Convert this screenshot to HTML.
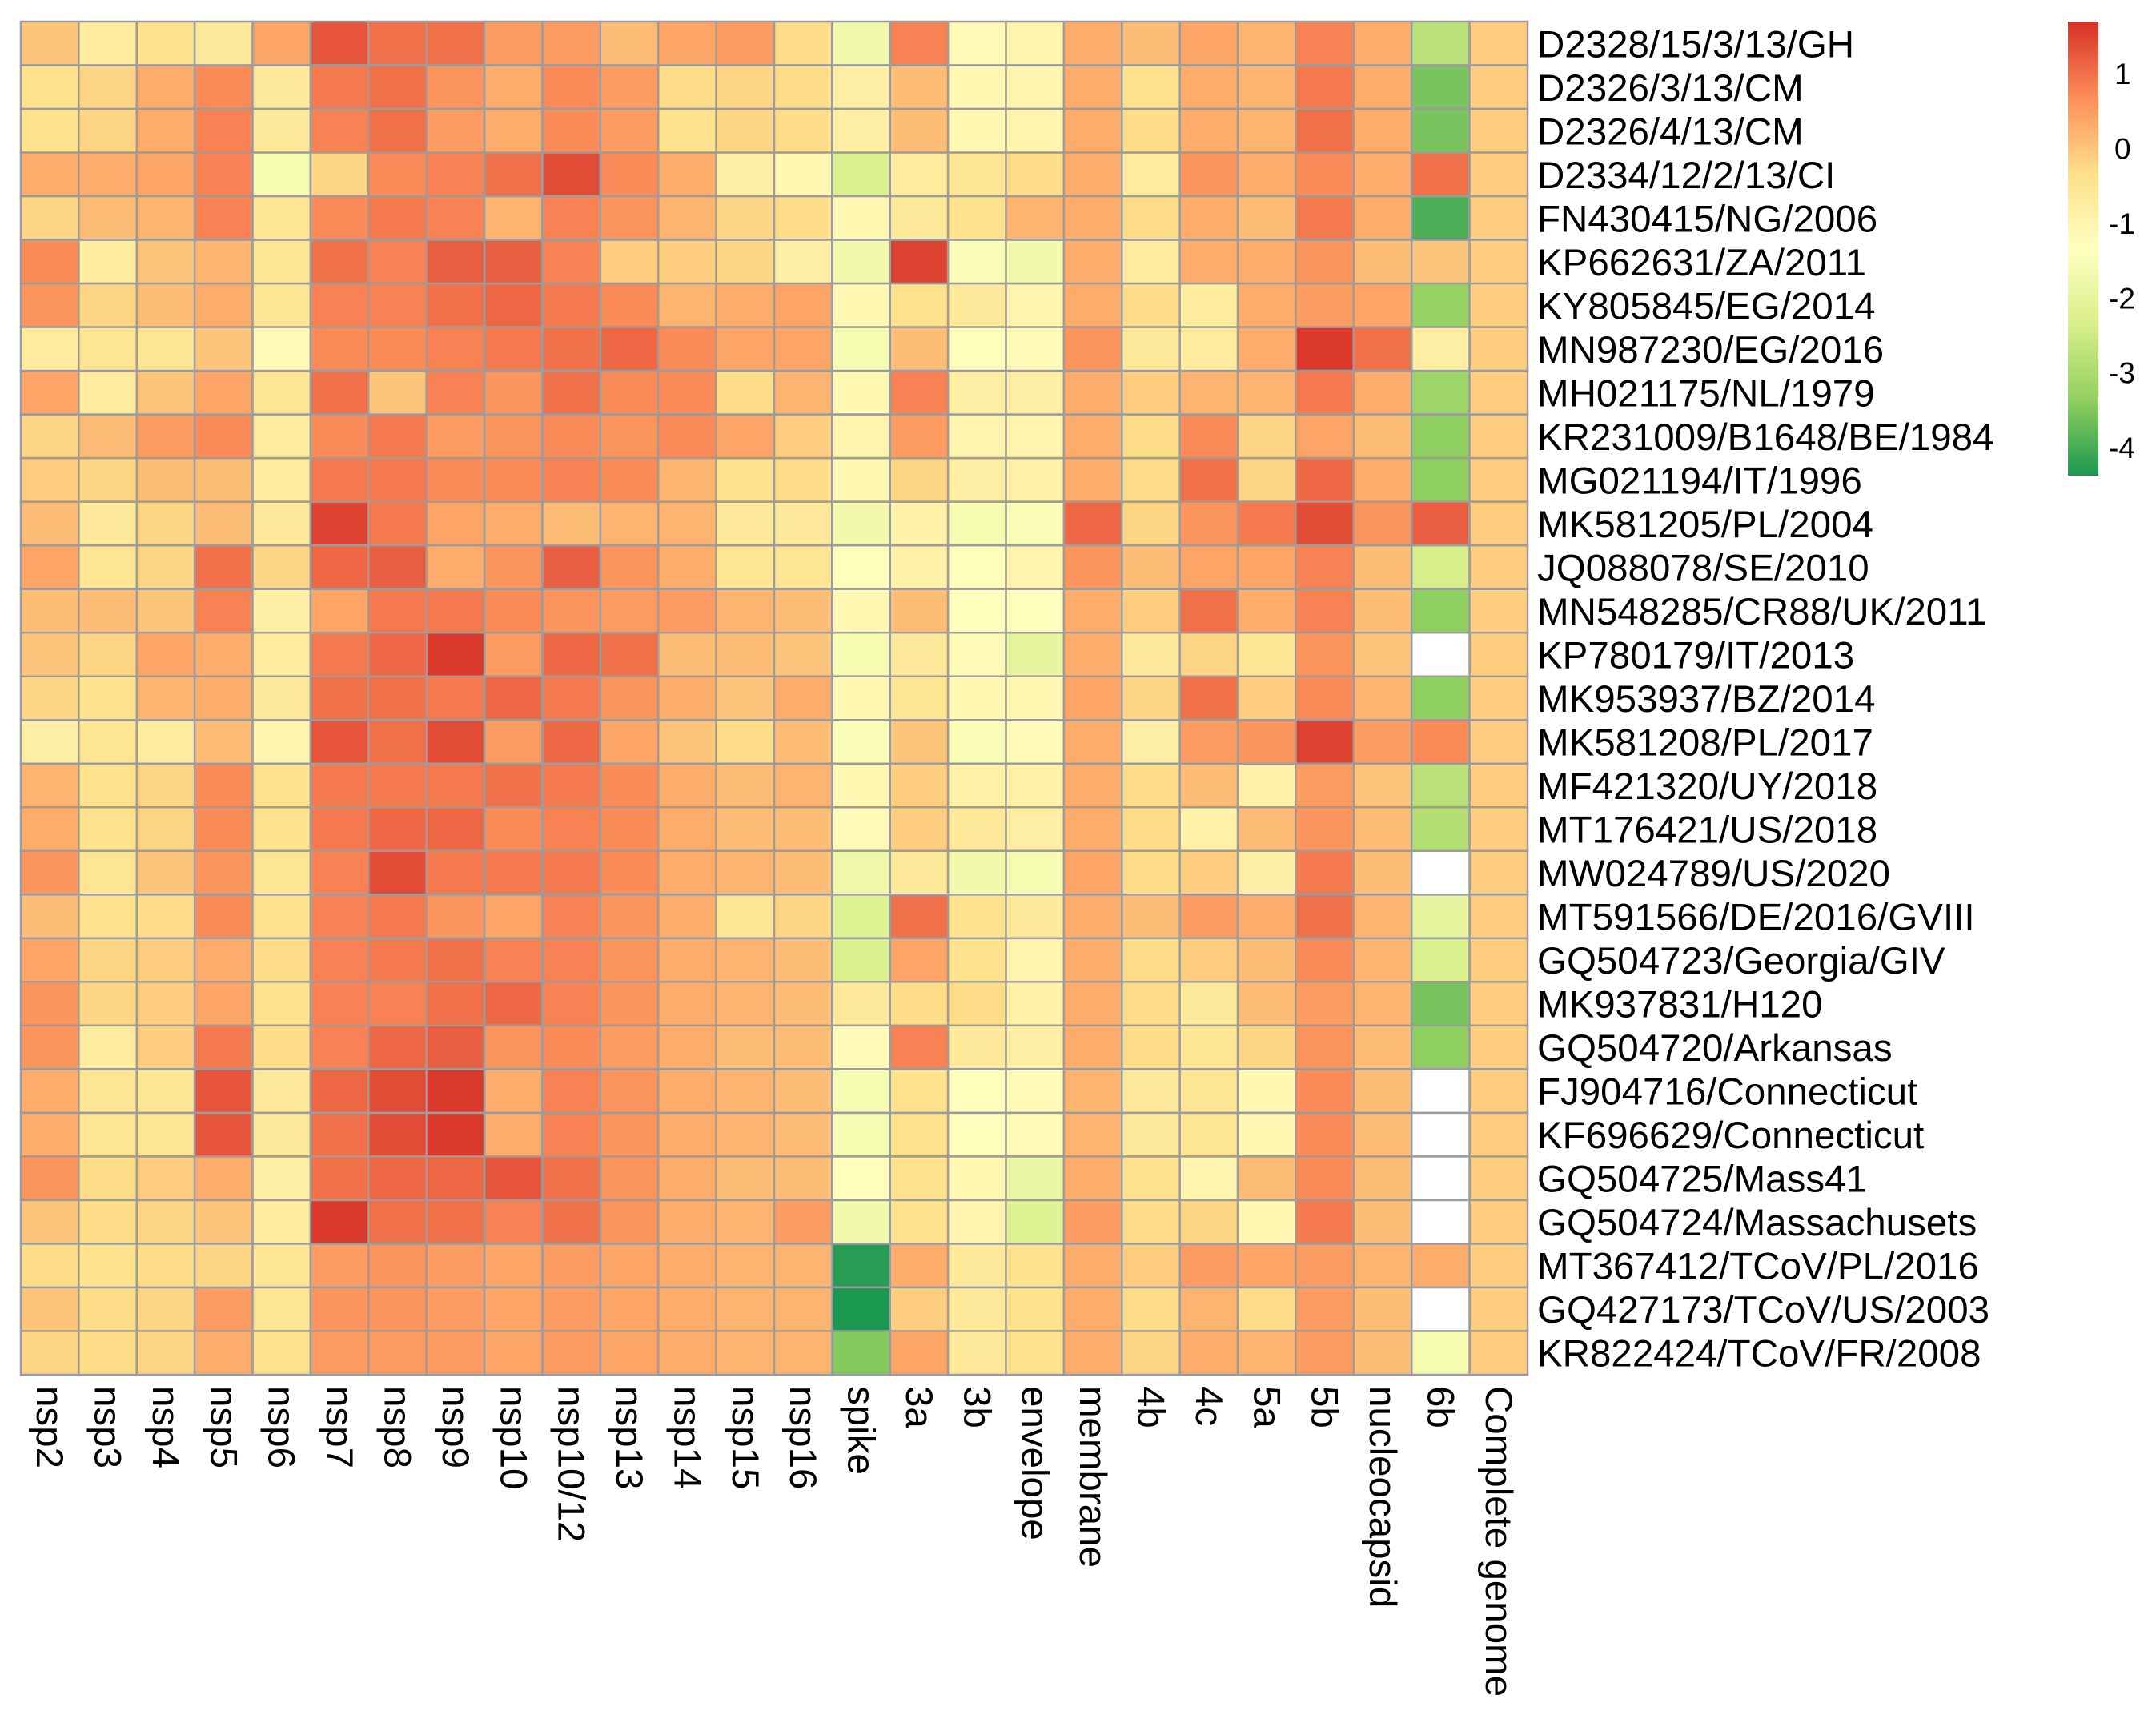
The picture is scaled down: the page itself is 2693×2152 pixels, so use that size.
<!DOCTYPE html>
<html><head><meta charset="utf-8"><style>
html,body{margin:0;padding:0;background:#fff;}
svg{display:block;}
text{font-family:"Liberation Sans",Arial,sans-serif;fill:#000;}
</style></head>
<body>
<svg id="chart" width="2693" height="2152" viewBox="0 0 2693 2152" xmlns="http://www.w3.org/2000/svg">
<defs>
<linearGradient id="lg" x1="0" y1="0" x2="0" y2="1">
<stop offset="0" stop-color="#d73027"/><stop offset="0.1667" stop-color="#fc8d59"/><stop offset="0.3333" stop-color="#fee08b"/><stop offset="0.5" stop-color="#ffffbf"/><stop offset="0.6667" stop-color="#d9ef8b"/><stop offset="0.8333" stop-color="#91cf60"/><stop offset="1" stop-color="#1a9850"/>
</linearGradient>
</defs>
<g id="cells"></g>
<g id="rowlabels"></g>
<g id="collabels"></g>
<g id="legend">
<rect x="2583" y="27" width="38" height="567" fill="url(#lg)"/>
</g>
</svg>
<script>
const columns = ["nsp2","nsp3","nsp4","nsp5","nsp6","nsp7","nsp8","nsp9","nsp10","nsp10/12","nsp13","nsp14","nsp15","nsp16","spike","3a","3b","envelope","membrane","4b","4c","5a","5b","nucleocapsid","6b","Complete genome"];
const rows = ["D2328/15/3/13/GH","D2326/3/13/CM","D2326/4/13/CM","D2334/12/2/13/CI","FN430415/NG/2006","KP662631/ZA/2011","KY805845/EG/2014","MN987230/EG/2016","MH021175/NL/1979","KR231009/B1648/BE/1984","MG021194/IT/1996","MK581205/PL/2004","JQ088078/SE/2010","MN548285/CR88/UK/2011","KP780179/IT/2013","MK953937/BZ/2014","MK581208/PL/2017","MF421320/UY/2018","MT176421/US/2018","MW024789/US/2020","MT591566/DE/2016/GVIII","GQ504723/Georgia/GIV","MK937831/H120","GQ504720/Arkansas","FJ904716/Connecticut","KF696629/Connecticut","GQ504725/Mass41","GQ504724/Massachusets","MT367412/TCoV/PL/2016","GQ427173/TCoV/US/2003","KR822424/TCoV/FR/2008"];
const N = null;
const values = [
[0,-0.7,-0.4,-0.6,0.4,1.3,1.0,1.0,0.5,0.5,0.1,0.4,0.5,-0.3,-1.7,0.8,-1.2,-1.0,0.3,0.1,0.4,0.2,0.8,0.3,-2.8,-0.1],
[-0.4,-0.2,0.3,0.7,-0.6,0.9,1.0,0.6,0.3,0.7,0.5,-0.3,-0.2,-0.3,-0.8,0.1,-1.1,-1.0,0.3,-0.4,0.3,0.2,0.9,0.3,-3.6,-0.1],
[-0.4,-0.2,0.3,0.8,-0.6,0.8,1.0,0.5,0.3,0.7,0.5,-0.4,-0.2,-0.3,-0.8,0.1,-1.1,-1.0,0.3,-0.3,0.3,0.2,1.0,0.3,-3.6,-0.1],
[0.3,0.3,0.4,0.8,-1.6,-0.2,0.7,0.8,1.0,1.4,0.7,0.3,-0.8,-1.1,-2.3,-0.7,-0.5,-0.3,0.3,-0.7,0.6,0.3,0.7,0.3,1.0,-0.1],
[-0.2,0.1,0.2,0.8,-0.5,0.7,0.9,0.8,0.2,0.8,0.6,0.2,-0.2,-0.3,-1.1,-0.6,-0.4,0.2,0.3,-0.3,0.3,0.1,0.9,0.3,-4.0,-0.1],
[0.7,-0.7,0.0,0.2,-0.5,1.0,0.8,1.2,1.2,0.8,-0.1,-0.1,-0.2,-0.8,-1.7,1.5,-1.5,-1.7,0.3,-0.7,0.3,0.3,0.6,0.1,0.0,-0.1],
[0.6,-0.2,0.1,0.3,-0.5,0.8,0.8,1.0,1.1,0.9,0.7,0.2,0.3,0.4,-1.1,-0.4,-0.6,-1.0,0.3,-0.3,-0.7,0.3,0.5,0.4,-3.3,-0.1],
[-0.7,-0.5,-0.5,0.0,-1.2,0.7,0.7,0.8,0.9,1.0,1.1,0.7,0.4,0.4,-1.6,0.1,-1.4,-1.2,0.6,-0.6,-0.7,0.3,1.6,1.0,-0.8,-0.1],
[0.4,-0.7,0.0,0.4,-0.5,1.0,0.0,0.8,0.6,1.0,0.7,0.7,-0.3,0.2,-1.1,0.8,-0.8,-0.8,0.3,-0.1,0.2,0.2,0.9,0.3,-3.2,-0.1],
[-0.2,0.1,0.5,0.7,-0.7,0.7,0.9,0.5,0.6,0.7,0.6,0.7,0.4,-0.1,-1.0,0.5,-1.0,-1.0,0.3,-0.3,0.7,-0.2,0.4,0.1,-3.4,-0.1],
[-0.1,-0.2,0.1,0.1,-0.7,0.9,0.9,0.7,0.7,0.8,0.7,0.2,-0.4,-0.3,-1.1,-0.2,-0.8,-0.9,0.3,-0.3,1.0,-0.2,1.1,0.3,-3.4,-0.1],
[0.1,-0.6,-0.2,0.1,-0.6,1.5,0.9,0.4,0.3,0.1,0.2,0.2,-0.6,-0.6,-1.7,-0.9,-1.6,-1.5,1.1,-0.2,0.6,0.9,1.4,0.6,1.2,-0.1],
[0.4,-0.5,-0.2,1.0,-0.2,1.1,1.2,0.3,0.6,1.2,0.6,0.3,-0.5,-0.5,-1.3,-0.9,-1.3,-1.0,0.6,0.1,0.4,0.4,0.8,0.1,-2.4,-0.1],
[0.1,0.1,0.0,0.8,-0.8,0.4,0.9,0.9,0.7,0.6,0.5,0.5,0.2,0.1,-1.1,0.1,-1.4,-1.3,0.3,-0.1,1.0,0.3,0.8,0.1,-3.4,-0.1],
[0.0,-0.2,0.4,0.3,-0.7,0.9,1.1,1.6,0.5,1.1,1.0,0.1,0.1,0.0,-1.6,-0.6,-1.2,-2.0,0.3,-0.6,-0.2,-0.5,0.6,0.0,N,-0.1],
[-0.2,-0.4,0.2,0.3,-0.6,1.0,1.0,0.9,1.1,0.9,0.6,0.3,0.0,0.3,-1.1,-0.5,-1.1,-1.1,0.4,-0.2,1.0,-0.1,0.7,0.2,-3.4,-0.1],
[-0.8,-0.5,-0.7,0.1,-1.0,1.3,1.0,1.4,0.5,1.1,0.4,0.0,-0.3,0.1,-1.5,0.0,-1.5,-1.2,0.3,-0.8,0.5,0.6,1.5,0.5,0.7,-0.1],
[0.2,-0.4,-0.2,0.7,-0.4,0.9,0.9,0.9,1.0,0.9,0.7,0.3,0.1,0.2,-1.1,-0.1,-0.9,-0.9,0.3,-0.3,0.1,-0.9,0.5,0.0,-2.8,-0.1],
[0.3,-0.4,-0.2,0.7,-0.4,0.9,1.1,1.1,0.7,0.8,0.7,0.3,0.1,0.1,-1.2,-0.1,-0.6,-0.8,0.3,-0.3,-0.9,0.1,0.6,0.1,-2.9,-0.1],
[0.6,-0.5,0.0,0.6,-0.5,0.8,1.4,0.9,0.9,0.9,0.7,0.3,0.2,0.1,-1.8,-0.6,-1.7,-1.6,0.4,-0.3,-0.1,-0.8,0.9,0.1,N,-0.1],
[0.1,-0.4,-0.3,0.7,-0.4,0.8,0.9,0.6,0.4,0.8,0.6,0.3,-0.5,-0.2,-2.2,1.0,-0.4,-0.6,0.3,0.1,0.5,0.3,1.0,0.2,-2.0,-0.1],
[0.4,-0.2,-0.1,0.3,-0.3,0.8,0.9,1.0,0.8,0.8,0.6,0.3,0.2,0.1,-2.3,0.4,-0.4,-1.0,0.3,-0.3,-0.1,0.1,0.7,0.2,-2.3,-0.1],
[0.6,-0.2,-0.1,0.4,-0.4,0.8,0.8,1.0,1.1,0.8,0.6,0.3,0.2,0.1,-0.6,-0.3,-0.3,-0.9,0.3,-0.3,-0.6,0.1,0.5,0.2,-3.6,-0.1],
[0.6,-0.7,-0.1,0.9,-0.3,0.8,1.1,1.2,0.6,0.7,0.5,0.3,0.1,0.1,-1.2,0.8,-0.6,-0.8,0.3,-0.3,-0.5,-0.2,0.6,0.1,-3.4,-0.1],
[0.3,-0.5,-0.5,1.3,-0.6,1.1,1.4,1.6,0.3,0.8,0.6,0.3,0.2,0.1,-1.6,-0.4,-1.3,-1.2,0.2,-0.6,-0.5,-1.1,0.7,0.1,N,-0.1],
[0.3,-0.5,-0.5,1.3,-0.6,1.0,1.4,1.6,0.3,0.8,0.6,0.3,0.2,0.1,-1.6,-0.4,-1.3,-1.2,0.2,-0.6,-0.5,-1.1,0.7,0.1,N,-0.1],
[0.6,-0.3,-0.1,0.3,-0.8,1.0,1.1,1.1,1.3,1.0,0.6,0.3,0.1,0.1,-1.3,-0.4,-1.1,-1.9,0.3,-0.4,-1.0,0.1,0.7,0.1,N,-0.1],
[0.0,-0.3,-0.2,0.0,-0.7,1.6,1.0,1.0,0.8,1.0,0.6,0.3,0.2,0.5,-1.7,-0.4,-1.0,-2.2,0.5,-0.3,-0.2,-1.1,0.9,0.1,N,-0.1],
[-0.3,-0.4,-0.3,-0.2,-0.5,0.5,0.6,0.5,0.4,0.5,0.4,0.3,0.2,0.2,-4.3,0.3,-0.6,-0.4,0.3,-0.1,0.5,0.4,0.5,0.2,0.3,-0.1],
[0.0,-0.3,-0.2,0.5,-0.5,0.6,0.6,0.5,0.4,0.5,0.4,0.3,0.2,0.2,-4.4,-0.1,-0.6,-0.4,0.3,-0.3,0.2,-0.3,0.5,0.1,N,-0.1],
[-0.2,-0.3,-0.2,0.3,-0.4,0.5,0.5,0.5,0.4,0.5,0.4,0.3,0.2,0.2,-3.5,0.4,-0.6,-0.4,0.3,-0.2,0.3,0.2,0.5,0.1,-1.6,-0.1]
];
const legendTicks = [1,0,-1,-2,-3,-4];

const NS="http://www.w3.org/2000/svg";
const X0=26,Y0=27,W=1882,H=1690;
const cw=W/columns.length, ch=H/rows.length;
const VMAX=1.7, VMIN=-4.4;
const pal=["#d73027","#fc8d59","#fee08b","#ffffbf","#d9ef8b","#91cf60","#1a9850"];
function hex(c){return [parseInt(c.slice(1,3),16),parseInt(c.slice(3,5),16),parseInt(c.slice(5,7),16)];}
function color(v){
  if(v===null) return "#ffffff";
  let t=(VMAX-v)/(VMAX-VMIN); t=Math.max(0,Math.min(1,t));
  const p=t*(pal.length-1); const i=Math.min(pal.length-2,Math.floor(p)); const f=p-i;
  const a=hex(pal[i]),b=hex(pal[i+1]);
  return "rgb("+a.map((x,k)=>Math.round(x+(b[k]-x)*f)).join(",")+")";
}
function xPos(c){return X0+c*cw;}
function yPos(r){return Y0+r*ch;}
function legendY(v){return 185.5-v*93.4;}

const gc=document.getElementById("cells");
rows.forEach((rn,r)=>{
  columns.forEach((cn,c)=>{
    const rect=document.createElementNS(NS,"rect");
    rect.setAttribute("x",xPos(c));rect.setAttribute("y",yPos(r));
    rect.setAttribute("width",cw);rect.setAttribute("height",ch);
    rect.setAttribute("fill",color(values[r][c]));
    rect.setAttribute("stroke","#9c9c9c");rect.setAttribute("stroke-width","2.5");
    
    
    gc.appendChild(rect);
  });
});
const gr=document.getElementById("rowlabels");
rows.forEach((rn,r)=>{
  const t=document.createElementNS(NS,"text");
  t.setAttribute("x",1920);t.setAttribute("y",yPos(r)+ch/2+17);
  t.setAttribute("font-size","47.5");
  t.textContent=rn;
  
  
  gr.appendChild(t);
});
const gl=document.getElementById("collabels");
columns.forEach((cn,c)=>{
  const t=document.createElementNS(NS,"text");
  const cx=xPos(c)+cw/2-16, cy=1731;
  t.setAttribute("x",cx);t.setAttribute("y",cy);
  t.setAttribute("font-size","47.5");
  t.setAttribute("transform","rotate(90 "+cx+" "+cy+")");
  t.textContent=cn;
  
  
  gl.appendChild(t);
});
const lg=document.getElementById("legend");
legendTicks.forEach(v=>{
  const t=document.createElementNS(NS,"text");
  t.setAttribute("x",v<0?2634:2641);t.setAttribute("y",legendY(v)+13);
  t.setAttribute("font-size","37");
  t.textContent=String(v);
  
  
  lg.appendChild(t);
});
</script>
</body></html>
